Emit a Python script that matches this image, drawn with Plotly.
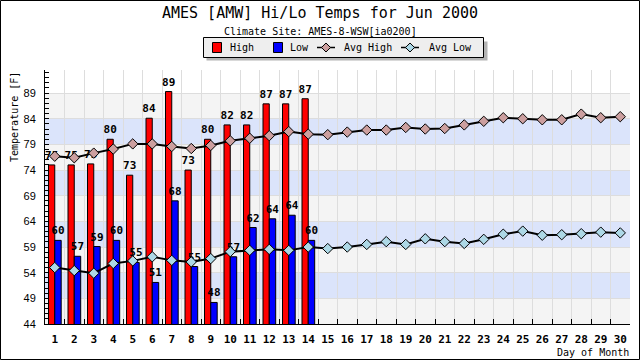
import plotly.graph_objects as go

days = [str(d) for d in range(1, 31)]
obs_days = days[:14]
high = [75.0, 75.0, 75.2, 80.0, 73.0, 84.1, 89.3, 74.0, 80.0, 82.8, 82.8, 86.9, 86.9, 87.9]
high_labels = ["75", "75", "75", "80", "73", "84", "89", "73", "80", "82", "82", "87", "87", "87"]
low = [60.3, 57.2, 59.1, 60.3, 56.0, 52.1, 68.0, 55.2, 48.2, 57.1, 62.8, 64.5, 65.2, 60.3]
low_labels = ["60", "57", "59", "60", "55", "51", "68", "55", "48", "57", "62", "64", "64", "60"]
avg_high = [76.7, 76.4, 77.3, 78.1, 79.1, 79.1, 78.6, 78.2, 78.8, 79.7, 80.2, 80.7, 81.5, 81.0,
            80.9, 81.4, 81.8, 81.8, 82.3, 82.0, 82.1, 82.8, 83.5, 84.2, 84.0, 83.8, 83.8, 84.9,
            84.2, 84.4]
avg_low = [55.0, 54.4, 53.9, 55.8, 56.3, 57.1, 56.4, 56.1, 56.75, 58.1, 58.35, 58.55, 58.35, 59.0,
           58.7, 59.0, 59.5, 60.05, 59.5, 60.6, 60.05, 59.7, 60.5, 61.5, 62.1, 61.3, 61.4, 61.6,
           61.9, 61.75]
y_ticks = [44, 49, 54, 59, 64, 69, 74, 79, 84, 89]

HIGH_COLOR, LOW_COLOR = "#ff0000", "#0000ff"
AVG_HIGH_COLOR, AVG_LOW_COLOR = "#cc9f9f", "#add8e6"

W, H = 640, 360
ML, MR, MT, MB = 45, 10, 70, 36
PW, PH = W - ML - MR, H - MT - MB


def px_x(px):
    return (px - ML) / PW


def px_y(py):
    return (H - MB - py) / PH


MONO = "DejaVu Sans Mono"

fig = go.Figure()
fig.add_trace(go.Bar(
    x=obs_days, y=high, name="High", offset=-0.32, width=0.32,
    marker=dict(color=HIGH_COLOR, line=dict(color="black", width=1)),
    text=high_labels, textposition="outside", constraintext="none", cliponaxis=False,
    textfont=dict(family=MONO, size=11, color="black", weight="bold"),
))
fig.add_trace(go.Bar(
    x=obs_days, y=low, name="Low", offset=0.0, width=0.33,
    marker=dict(color=LOW_COLOR, line=dict(color="black", width=1)),
    text=low_labels, textposition="outside", constraintext="none", cliponaxis=False,
    textfont=dict(family=MONO, size=11, color="black", weight="bold"),
))
fig.add_trace(go.Scatter(
    x=days, y=avg_high, name="Avg High", mode="lines+markers",
    line=dict(color="black", width=2),
    marker=dict(symbol="diamond", size=8, color=AVG_HIGH_COLOR, line=dict(color="black", width=1)),
))
fig.add_trace(go.Scatter(
    x=days, y=avg_low, name="Avg Low", mode="lines+markers",
    line=dict(color="black", width=2),
    marker=dict(symbol="diamond", size=8, color=AVG_LOW_COLOR, line=dict(color="black", width=1)),
))

shapes = []
band_colors = ["#f4f4f4", "#dbe4fb"]
for i, t in enumerate(y_ticks[:-1]):
    shapes.append(dict(type="rect", xref="paper", yref="y", x0=0, x1=1, y0=t, y1=y_ticks[i + 1],
                       fillcolor=band_colors[i % 2], line=dict(width=0), layer="below"))


def prect(x0, y0, x1, y1, fill, line_color=None, lw=1):
    return dict(type="rect", xref="paper", yref="paper",
                x0=px_x(x0), x1=px_x(x1), y0=px_y(y1), y1=px_y(y0),
                fillcolor=fill,
                line=dict(color=line_color or "rgba(0,0,0,0)", width=lw if line_color else 0),
                layer="above")


def pline(x0, y0, x1, y1, color="black", lw=1.5):
    return dict(type="line", xref="paper", yref="paper",
                x0=px_x(x0), x1=px_x(x1), y0=px_y(y0), y1=px_y(y1),
                line=dict(color=color, width=lw), layer="above")


def pdiamond(cx, cy, r, fill):
    pts = [(cx, cy - r), (cx + r, cy), (cx, cy + r), (cx - r, cy)]
    path = "M " + " L ".join(f"{px_x(a):.6f},{px_y(b):.6f}" for a, b in pts) + " Z"
    return dict(type="path", xref="paper", yref="paper", path=path, fillcolor=fill,
                line=dict(color="black", width=1), layer="above")


# manual legend (box, shadow, symbols)
LY = 47.5
shapes += [
    prect(206.5, 41.5, 487.5, 60.5, "#b4b4b4"),
    prect(203.5, 37.5, 483.5, 57.5, "#eeeeee", "black", 1),
    prect(212.5, 42.5, 221.5, 52.5, HIGH_COLOR, "black", 1),
    prect(273.5, 42.5, 282.5, 52.5, LOW_COLOR, "black", 1),
    pline(317, LY, 335, LY),
    pdiamond(326, LY, 4.5, AVG_HIGH_COLOR),
    pline(401, LY, 419, LY),
    pdiamond(410, LY, 4.5, AVG_LOW_COLOR),
]
# outer frame
shapes.append(prect(0.5, 0.5, 639.5, 359.5, "rgba(0,0,0,0)", "black", 1))

legend_items = [("High", 228), ("Low", 288), ("Avg High", 342), ("Avg Low", 427)]
annotations = [
    dict(text="Climate Site: AMES-8-WSW[ia0200]", xref="paper", yref="paper",
         x=px_x(320), y=px_y(31), xanchor="center", yanchor="middle", showarrow=False,
         font=dict(family=MONO, size=10, color="black")),
    dict(text="Temperature [F]", xref="paper", yref="paper", textangle=-90,
         x=px_x(14), y=px_y(117), xanchor="center", yanchor="middle", showarrow=False,
         font=dict(family=MONO, size=10, color="black")),
    dict(text="Day of Month", xref="paper", yref="paper",
         x=px_x(630), y=px_y(352.5), xanchor="right", yanchor="middle", showarrow=False,
         borderpad=0, font=dict(family=MONO, size=10, color="black")),
]
for name, xpos in legend_items:
    annotations.append(dict(text=name, xref="paper", yref="paper", x=px_x(xpos), y=px_y(LY),
                            xanchor="left", yanchor="middle", showarrow=False,
                            font=dict(family=MONO, size=10, color="black")))

fig.update_layout(
    width=W, height=H,
    margin=dict(l=ML, r=MR, t=MT, b=MB, pad=0, autoexpand=False),
    paper_bgcolor="white", plot_bgcolor="white",
    barmode="overlay",
    showlegend=False,
    title=dict(text="AMES [AMW] Hi/Lo Temps for Jun 2000", x=0.5, xref="container",
               y=1 - 12.5 / H, yref="container", xanchor="center", yanchor="middle",
               font=dict(family=MONO, size=15, color="black")),
    shapes=shapes,
    annotations=annotations,
    xaxis=dict(type="category", categoryorder="array", categoryarray=days,
               range=[-0.5, 29.5], tickson="boundaries", ticks="inside", ticklen=5,
               tickcolor="black", showgrid=True, gridcolor="#dddddd", gridwidth=1,
               showline=True, linecolor="black", linewidth=1, zeroline=False,
               tickangle=0, automargin=False, ticklabelstandoff=5,
               tickfont=dict(family=MONO, size=11, color="black", weight="bold")),
    yaxis=dict(range=[44, 93.5], tick0=44, dtick=5, ticks="inside", ticklen=4,
               tickcolor="black", showgrid=True, gridcolor="#dddddd", gridwidth=1,
               showline=True, linecolor="black", linewidth=1, zeroline=False,
               ticklabelstandoff=6, automargin=False,
               minor=dict(tick0=44, dtick=1, ticks="inside", ticklen=4, tickcolor="black",
                          showgrid=False),
               tickfont=dict(family="Liberation Sans", size=11, color="black")),
)

fig.write_html("out.html", config={"displayModeBar": False},
               post_script="document.body.style.margin='0px';document.body.style.overflow='hidden';")
